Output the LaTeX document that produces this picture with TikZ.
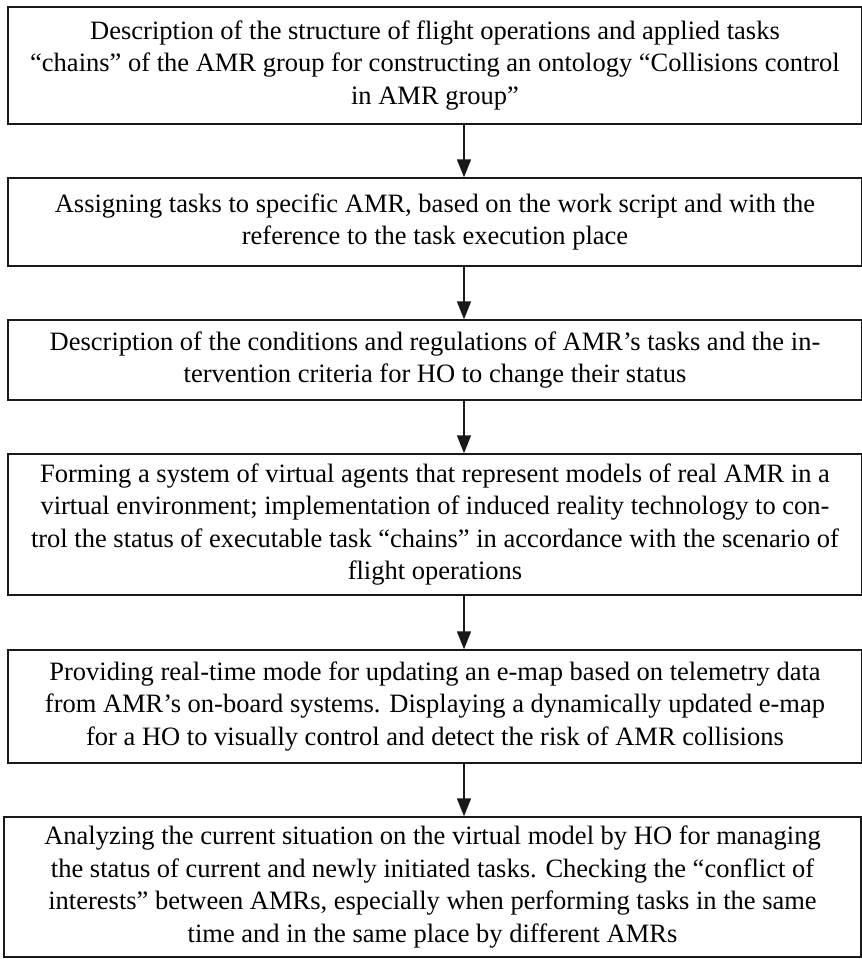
\documentclass[tikz,border=0pt]{standalone}
\usepackage{fontspec}
\setmainfont{Liberation Serif}
\usetikzlibrary{arrows.meta}
\begin{document}
\begin{tikzpicture}[x=1pt, y=1pt,
    stage/.style={draw=black!90, line width=1.4pt, inner sep=0pt, align=center,
      minimum width=854pt, font=\fontsize{26.5}{32.5}\selectfont},
    flow/.style={draw=black!90, line width=1.6pt, -{Triangle[width=14pt, length=18pt]}}]
  \useasboundingbox (0,0) rectangle (862,959);
  \node[stage, minimum height=117pt] (structure) at (435,893.5)
    {Description of the structure of flight operations and applied tasks\\
     “chains” of the AMR group for constructing an ontology “Collisions control\\
     in AMR group”};
  \node[stage, minimum height=88pt] (assign) at (435,737)
    {Assigning tasks to specific AMR, based on the work script and with the\\
     reference to the task execution place};
  \node[stage, minimum height=80pt] (rules) at (435,599)
    {Description of the conditions and regulations of AMR’s tasks and the in-\\
     tervention criteria for HO to change their status};
  \node[stage, minimum height=141pt] (agents) at (435,434.5)
    {Forming a system of virtual agents that represent models of real AMR in a\\
     virtual environment; implementation of induced reality technology to con-\\
     trol the status of executable task “chains” in accordance with the scenario of\\
     flight operations};
  \node[stage, minimum height=113pt] (emap) at (435,252.5)
    {Providing real-time mode for updating an e-map based on telemetry data\\
     from AMR’s on-board systems. Displaying a dynamically updated e-map\\
     for a HO to visually control and detect the risk of AMR collisions};
  \node[stage, minimum height=140pt, minimum width=857pt] (analysis) at (432.5,72)
    {Analyzing the current situation on the virtual model by HO for managing\\
     the status of current and newly initiated tasks. Checking the “conflict of\\
     interests” between AMRs, especially when performing tasks in the same\\
     time and in the same place by different AMRs};
  \coordinate (axis) at (464,0);
  \draw[flow] (structure.south -| axis) -- (assign.north -| axis);
  \draw[flow] (assign.south -| axis) -- (rules.north -| axis);
  \draw[flow] (rules.south -| axis) -- (agents.north -| axis);
  \draw[flow] (agents.south -| axis) -- (emap.north -| axis);
  \draw[flow] (emap.south -| axis) -- (analysis.north -| axis);
\end{tikzpicture}
\end{document}
